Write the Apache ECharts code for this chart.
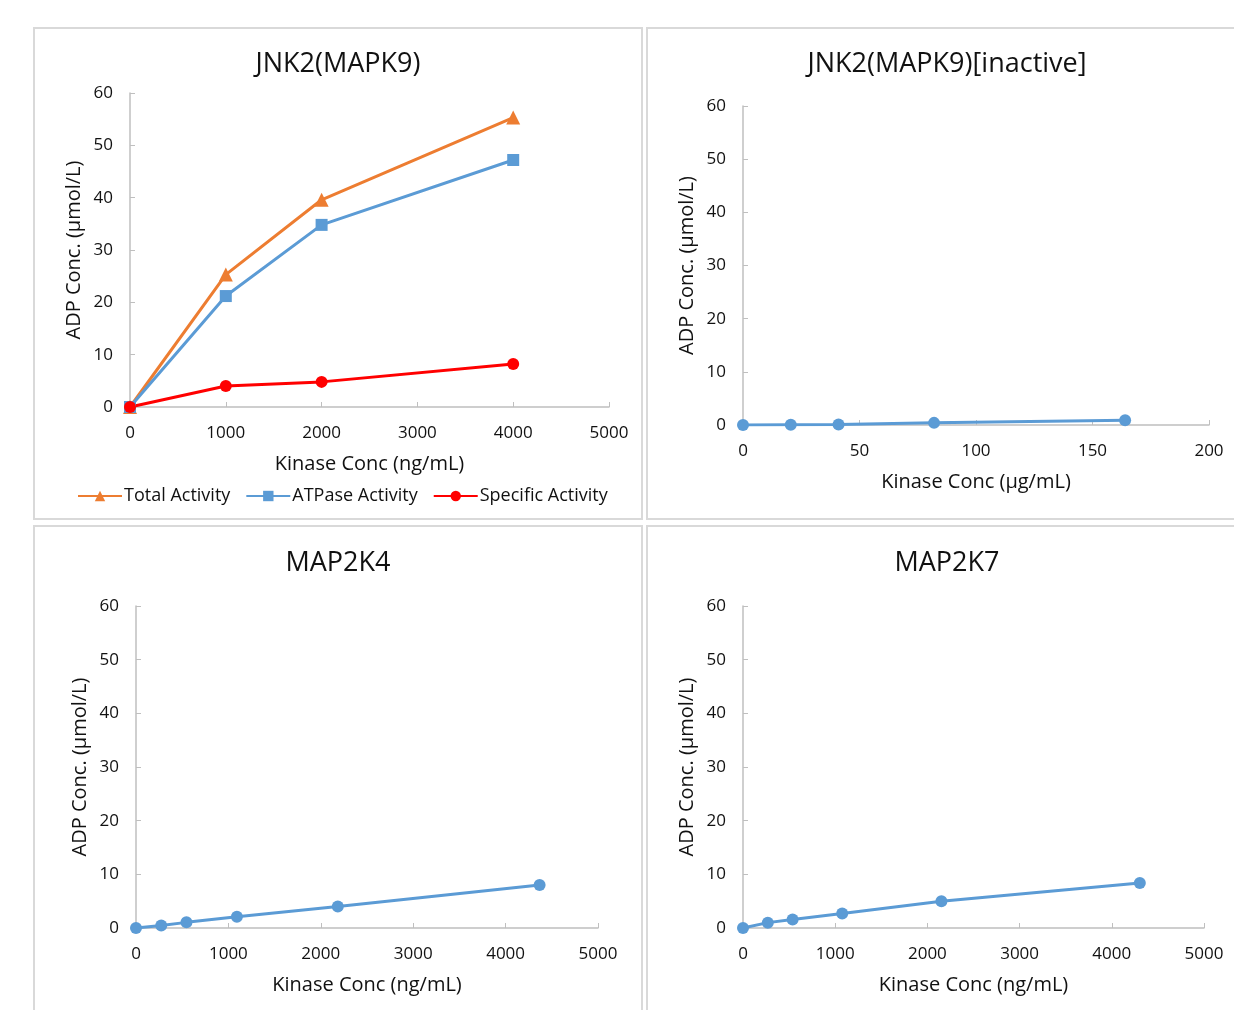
<!DOCTYPE html>
<html>
<head>
    <meta charset="UTF-8">
    <script src="https://cdn.jsdelivr.net/npm/echarts@6/dist/echarts.min.js"></script>
    <title>Kinase ADP</title>
    <style>
        html, body { margin: 0; padding: 0; background: #fff; }
        #chart { width: 1234px; height: 1010px; }
    </style>
</head>
<body>
    <div id="chart"></div>
<script>
    // JNK2(MAPK9)
    var jnkConc = [0, 1000, 2000, 4000];
    var totalAct = [0, 25.3, 39.6, 55.3];
    var atpaseAct = [0, 21.2, 34.8, 47.2];
    var specificAct = [0, 4.0, 4.8, 8.2];
    // JNK2(MAPK9)[inactive], ug/mL
    var inactiveConc = [0, 20.5, 41, 82, 164];
    var inactiveAct = [0, 0.05, 0.1, 0.4, 0.9];
    // MAP2K4
    var map2k4Conc = [0, 273, 546, 1092, 2184, 4368];
    var map2k4Act = [0, 0.45, 1.05, 2.1, 4.0, 8.0];
    // MAP2K7
    var map2k7Conc = [0, 269, 538, 1076, 2152, 4304];
    var map2k7Act = [0, 1.0, 1.6, 2.7, 5.0, 8.4];

    var titles = ['JNK2(MAPK9)', 'JNK2(MAPK9)[inactive]', 'MAP2K4', 'MAP2K7'];
    var yName = 'ADP Conc. (μmol/L)';
    var xNames = ['Kinase Conc (ng/mL)', 'Kinase Conc (μg/mL)', 'Kinase Conc (ng/mL)', 'Kinase Conc (ng/mL)'];

    var font = 'Open Sans';
    var txt = '#111';
    var orange = '#ED7D31', blue = '#5B9BD5', red = '#FF0000';

    function pairs(xs, ys) {
        return xs.map(function (x, i) { return [x, ys[i]]; });
    }

    function xAxis(idx, max, interval) {
        return {
            type: 'value', gridIndex: idx, min: 0, max: max, interval: interval,
            name: xNames[idx], nameLocation: 'middle', nameGap: 47,
            nameTextStyle: { fontFamily: font, fontSize: 20, color: txt },
            axisLine: { lineStyle: { color: '#bfbfbf', width: 1.5 } },
            axisTick: { inside: true, length: 5, lineStyle: { color: '#bfbfbf' } },
            axisLabel: { fontFamily: font, fontSize: 17, color: txt, margin: 18,
                formatter: function (v) { return String(v); } },
            splitLine: { show: false }
        };
    }

    function yAxis(idx) {
        return {
            type: 'value', gridIndex: idx, min: 0, max: 60, interval: 10,
            name: yName, nameLocation: 'middle', nameGap: 46,
            nameTextStyle: { fontFamily: font, fontSize: 20, color: txt },
            axisLine: { show: true, lineStyle: { color: '#bfbfbf', width: 1.5 } },
            axisTick: { show: true, inside: true, length: 5, lineStyle: { color: '#bfbfbf' } },
            axisLabel: { fontFamily: font, fontSize: 17, color: txt, margin: 17 },
            splitLine: { show: false }
        };
    }

    function blueSeries(idx, xs, ys) {
        return {
            type: 'line', xAxisIndex: idx, yAxisIndex: idx,
            data: pairs(xs, ys),
            symbol: 'circle', symbolSize: 12,
            lineStyle: { color: blue, width: 3 },
            itemStyle: { color: blue },
            silent: true
        };
    }

    function panel(x, y, w, h) {
        return {
            type: 'rect', shape: { x: x, y: y, width: w, height: h },
            style: { fill: 'none', stroke: '#d9d9d9', lineWidth: 2 }
        };
    }

    var chart = echarts.init(document.getElementById('chart'), null, { renderer: 'canvas' });

    var option = {
        backgroundColor: '#fff',
        animation: false,
        graphic: [
            panel(34, 28, 608, 491),
            panel(647, 28, 600, 491),
            panel(34, 526, 608, 500),
            panel(647, 526, 600, 500)
        ],
        title: [
            { text: titles[0], left: 338, top: 51 },
            { text: titles[1], left: 947, top: 51 },
            { text: titles[2], left: 338, top: 550 },
            { text: titles[3], left: 947, top: 550 }
        ].map(function (t) {
            t.textAlign = 'center';
            t.padding = 0;
            t.textStyle = { fontFamily: font, fontSize: 27, fontWeight: 'normal', color: txt };
            return t;
        }),
        legend: {
            left: 72, top: 482,
            itemWidth: 44, itemHeight: 13, itemGap: 15,
            textStyle: { fontFamily: font, fontSize: 18, color: txt, padding: [0, 0, 0, -3] },
            data: ['Total Activity', 'ATPase Activity', 'Specific Activity']
        },
        grid: [
            { left: 130, top: 93, width: 479, height: 314 },
            { left: 743, top: 106, width: 466, height: 319 },
            { left: 136, top: 606, width: 462, height: 322 },
            { left: 743, top: 606, width: 461, height: 322 }
        ],
        xAxis: [
            xAxis(0, 5000, 1000),
            xAxis(1, 200, 50),
            xAxis(2, 5000, 1000),
            xAxis(3, 5000, 1000)
        ],
        yAxis: [yAxis(0), yAxis(1), yAxis(2), yAxis(3)],
        series: [
            {
                name: 'Total Activity', type: 'line', xAxisIndex: 0, yAxisIndex: 0,
                data: pairs(jnkConc, totalAct),
                symbol: 'triangle', symbolSize: 14,
                lineStyle: { color: orange, width: 3 }, itemStyle: { color: orange }
            },
            {
                name: 'ATPase Activity', type: 'line', xAxisIndex: 0, yAxisIndex: 0,
                data: pairs(jnkConc, atpaseAct),
                symbol: 'rect', symbolSize: 12,
                lineStyle: { color: blue, width: 3 }, itemStyle: { color: blue }
            },
            {
                name: 'Specific Activity', type: 'line', xAxisIndex: 0, yAxisIndex: 0,
                data: pairs(jnkConc, specificAct),
                symbol: 'circle', symbolSize: 12,
                lineStyle: { color: red, width: 3 }, itemStyle: { color: red }
            },
            blueSeries(1, inactiveConc, inactiveAct),
            blueSeries(2, map2k4Conc, map2k4Act),
            blueSeries(3, map2k7Conc, map2k7Act)
        ]
    };

    chart.setOption(option);
</script>
</body>
</html>
